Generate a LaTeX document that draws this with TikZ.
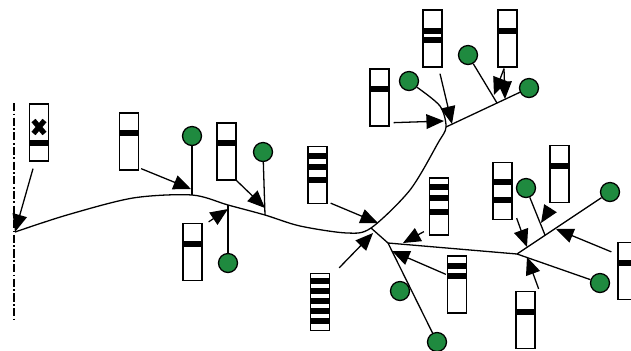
\documentclass[tikz,border=0pt]{standalone}
\usepackage{tikz}
\usetikzlibrary{arrows.meta,calc}
\definecolor{leaf}{HTML}{1F8A3F}
\newcommand{\band}[2]{\fill ($(#1.north west)+(0,#2-3)$) rectangle ($(#1.north east)+(0,#2+3)$);}

\begin{document}
\begin{tikzpicture}[x=0.03cm,y=-0.03cm,line width=1.1pt,
  chrom/.style={draw,rectangle,fill=white,inner sep=0pt,minimum width=0.57cm,minimum height=1.71cm},
  mut/.style={draw,circle,fill=leaf,inner sep=0pt,minimum size=0.57cm},
  hit/.style={-{Triangle[length=15pt,width=12.5pt]}}]
\useasboundingbox (0,0) rectangle (631,350);
\clip (0,0) rectangle (631,350);

% outgroup
\draw[line width=2pt,dash pattern=on 7pt off 2pt on 1.5pt off 2pt] (14,103) -- (14,320);

% branch points
\coordinate (root) at (15,232);
\coordinate (m1) at (192,195);
\coordinate (m2) at (228,205);
\coordinate (m3) at (265,215);
\coordinate (jA) at (371,228);
\coordinate (jB) at (446,127);
\coordinate (jD) at (388,243);
\coordinate (jC) at (517,254);
\coordinate (tb) at (497,103);
\coordinate (rb) at (545,235);

% arrow targets
\coordinate (a1) at (191,189);
\coordinate (a2) at (265,208);
\coordinate (a3) at (228,209);
\coordinate (a4) at (378,223);
\coordinate (a5) at (373,233);
\coordinate (a6) at (403,243);
\coordinate (a7) at (392,251);
\coordinate (a8) at (444,121);
\coordinate (a9) at (452,124);
\coordinate (a10) at (494,95);
\coordinate (a11) at (505,99);
\coordinate (a12) at (527,247);
\coordinate (a13) at (541,223);
\coordinate (a14) at (556,229);
\coordinate (a15) at (527,257);

% chromosomes
\node[chrom] (c0) at (39,132.5) {};
\node[chrom] (c1) at (129,141.5) {};
\node[chrom] (c2) at (226.5,151.5) {};
\node[chrom] (c3) at (192.5,252) {};
\node[chrom] (c4) at (317.5,175) {};
\node[chrom] (c5) at (320,302) {};
\node[chrom] (c6) at (439,206.5) {};
\node[chrom] (c7) at (457,284.5) {};
\node[chrom] (c8) at (379.5,97.5) {};
\node[chrom] (c9) at (432.5,38.5) {};
\node[chrom] (c10) at (507.5,38.5) {};
\node[chrom] (c11) at (502.5,191) {};
\node[chrom] (c12) at (559.5,174) {};
\node[chrom] (c13) at (627.5,271) {};
\node[chrom] (c14) at (525.5,320) {};

\band{c0}{40}
\draw[line width=4.5pt] (33.5,120.5) -- (44.5,133.5) (44.5,120.5) -- (33.5,133.5);
\band{c1}{21}
\band{c2}{21}
\band{c3}{21}
\band{c4}{10} \band{c4}{21} \band{c4}{34}
\band{c5}{8} \band{c5}{18} \band{c5}{28} \band{c5}{38} \band{c5}{48}
\band{c6}{10} \band{c6}{21} \band{c6}{35}
\band{c7}{11} \band{c7}{21}
\band{c8}{21}
\band{c9}{22} \band{c9}{31}
\band{c10}{22}
\band{c11}{20} \band{c11}{38}
\band{c12}{21}
\band{c13}{21}
\band{c14}{21}

% mutations
\node[mut] (g1) at (192,136) {};
\node[mut] (g2) at (263,152) {};
\node[mut] (g3) at (228,263) {};
\node[mut] (g4) at (400,291) {};
\node[mut] (g5) at (437,342) {};
\node[mut] (g6) at (409,81) {};
\node[mut] (g7) at (468,55) {};
\node[mut] (g8) at (529,88) {};
\node[mut] (g9) at (526,188) {};
\node[mut] (g10) at (610,192) {};
\node[mut] (g11) at (600,283) {};

% tree
\draw plot[smooth] coordinates {(root) (67,215) (133,198) (m1) (m2) (m3) (300,226) (347,233) (jA) (410,190) (438,143) (jB) (440,106) (g6.-38)};
\draw (g1) -- (m1);
\draw (g2) -- (m3);
\draw (g3) -- (m2);
\draw (jA) -- (jD) -- (jC);
\draw (jD) -- (g5);
\draw (jB) -- (g8);
\draw (g7) -- (tb);
\draw (jC) -- (g10);
\draw (jC) -- (g11);
\draw (g9) -- (rb);

% hits
\draw[hit] ([shift={(-6,7)}]c0.south) -- (root);
\draw[hit] ([shift={(2,-2)}]c1.south east) -- (a1);
\draw[hit] (c2.south east) -- (a2);
\draw[hit] ([shift={(6,-1)}]c3.north east) -- (a3);
\draw[hit] ([shift={(3,-1)}]c4.south east) -- (a4);
\draw[hit] ([shift={(9,-5)}]c5.north east) -- (a5);
\draw[hit] ([shift={(-5,-4)}]c6.south west) -- (a6);
\draw[hit] ([shift={(-1,19)}]c7.north west) -- (a7);
\draw[hit] ([shift={(4,-4)}]c8.south east) -- (a8);
\draw[hit] ([shift={(7.5,6)}]c9.south) -- (a9);
\draw[hit] ([shift={(-3.5,1)}]c10.south) -- (a10);
\draw[hit] ([shift={(-3.5,1)}]c10.south) -- (a11);
\draw[hit] ([shift={(4,-2)}]c11.south east) -- (a12);
\draw[hit] ([shift={(-9,5)}]c12.south) -- (a13);
\draw[hit] ([shift={(-6,10)}]c13.north west) -- (a14);
\draw[hit] ([shift={(3,-2)}]c14.north east) -- (a15);
\end{tikzpicture}
\end{document}
